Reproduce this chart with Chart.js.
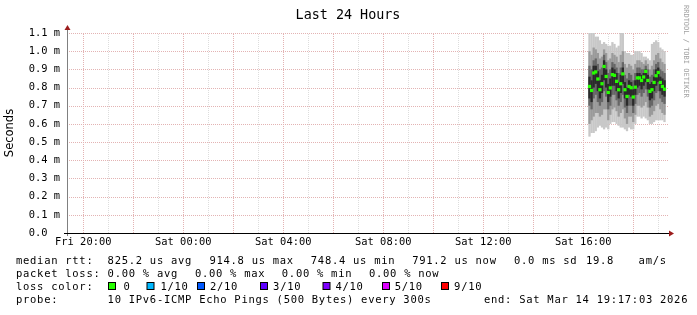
<!DOCTYPE html>
<html>
<head>
<meta charset="utf-8">
<title>Last 24 Hours</title>
<script src="https://cdn.jsdelivr.net/npm/chart.js@4"></script>
<style>
  body { margin: 0; background: #fff; }
  canvas { display: block; }
</style>
</head>
<body>
<canvas id="myChart" width="697" height="315"></canvas>
<script>
// 5 minute steps, Sat afternoon
const stepTimes = ['16:15','16:20','16:25','16:30','16:35','16:40','16:45','16:50','16:55',
    '17:00','17:05','17:10','17:15','17:20','17:25','17:30','17:35','17:40','17:45','17:50','17:55',
    '18:00','18:05','18:10','18:15','18:20','18:25','18:30','18:35','18:40','18:45','18:50','18:55',
    '19:00','19:05','19:10','19:15'];

// rtt in ms
const medianRtt = [.806,.784,.880,.886,.847,.788,.821,.916,.861,.773,.798,.871,.867,.834,.788,.821,.875,.788,.751,.806,.799,.748,.802,.853,.853,.839,.858,.889,.839,.779,.788,.828,.865,.883,.828,.806,.791];
const outerHigh = [1.10,1.10,1.10,1.08,1.08,1.06,1.04,1.05,1.04,1.03,1.03,1.05,1.04,1.02,1.03,1.10,1.10,1.00,.99,.99,.98,.98,1.00,1.00,1.00,.99,.97,.97,.96,.95,1.04,1.05,1.06,1.05,1.02,1.01,1.00];
const outerLow = [.53,.55,.55,.56,.58,.59,.58,.57,.58,.57,.60,.61,.61,.60,.59,.58,.58,.57,.56,.58,.57,.57,.60,.64,.64,.63,.64,.63,.62,.60,.60,.61,.62,.62,.62,.62,.61];
const midHigh = [1.00,.98,1.02,1.01,.99,.96,.97,1.01,.99,.95,.96,.99,.98,.97,.94,.98,1.00,.93,.91,.93,.92,.90,.93,.95,.95,.94,.93,.95,.93,.90,.92,.95,.98,.99,.96,.94,.93];
const midLow = [.60,.62,.64,.66,.66,.64,.65,.68,.68,.62,.65,.68,.69,.67,.64,.66,.68,.63,.60,.64,.64,.61,.65,.70,.70,.69,.70,.72,.69,.64,.65,.67,.70,.71,.68,.66,.65];
const innerHigh = [.92,.90,.95,.96,.93,.90,.91,.98,.94,.88,.90,.94,.93,.91,.88,.91,.94,.87,.85,.88,.87,.84,.88,.91,.91,.90,.90,.92,.90,.86,.87,.90,.93,.94,.90,.89,.88];
const innerLow = [.70,.68,.74,.76,.72,.70,.72,.78,.75,.68,.70,.76,.76,.73,.70,.72,.76,.69,.66,.70,.70,.66,.71,.76,.77,.75,.77,.79,.75,.69,.70,.73,.77,.78,.74,.72,.71];
const coreHigh = [.86,.84,.92,.92,.89,.84,.87,.95,.90,.82,.85,.91,.90,.88,.83,.87,.91,.83,.80,.84,.83,.79,.84,.88,.88,.87,.88,.90,.87,.82,.83,.86,.90,.91,.86,.85,.84];
const coreLow = [.74,.72,.80,.82,.78,.74,.77,.84,.80,.72,.75,.81,.81,.78,.74,.77,.82,.74,.70,.76,.75,.70,.76,.80,.81,.79,.81,.83,.79,.73,.74,.78,.81,.83,.78,.76,.75];

// axis ticks (x = hours since Fri 00:00)
const xTickHours = [20,21,22,23,24,25,26,27,28,29,30,31,32,33,34,35,36,37,38,39,40,41,42,43];
const yTicks = [0,0.1,0.2,0.3,0.4,0.5,0.6,0.7,0.8,0.9,1.0,1.1];

const lossColors = ['#26ff00','#00b8ff','#0059ff','#5e00ff','#7e00ff','#dd00ff','#ff0000'];
const lossLabels = ['0','1/10','2/10','3/10','4/10','5/10','9/10'];

const mono = '"DejaVu Sans Mono", "Liberation Mono", monospace';
const majorGrid = '#e3b3b3';
const minorGrid = '#dddddd';

function stepHour(t) {
    const p = t.split(':');
    return 24 + Number(p[0]) + Number(p[1]) / 60;
}

function band(lo, hi) {
    return stepTimes.map((t, i) => ({ x: stepHour(t), y: [lo[i], hi[i]] }));
}

function hourLabel(v) {
    if (v % 4 !== 0) return '';
    const day = v < 24 ? 'Fri' : 'Sat';
    const h = v % 24;
    return day + ' ' + (h < 10 ? '0' + h : h) + ':00';
}

// dotted rrdtool style grid, placed with the chart's scales
const dottedGrid = {
    id: 'dottedGrid',
    beforeDatasetsDraw(chart) {
        const c = chart.ctx;
        const a = chart.chartArea;
        const xs = chart.scales.x;
        const ys = chart.scales.y;
        c.save();
        c.lineWidth = 1;
        c.setLineDash([1, 1]);
        xs.ticks.forEach(t => {
            const px = Math.round(xs.getPixelForValue(t.value)) + 0.5;
            c.strokeStyle = t.value % 2 === 0 ? majorGrid : minorGrid;
            c.beginPath();
            c.moveTo(px, a.bottom);
            c.lineTo(px, a.top);
            c.stroke();
        });
        ys.ticks.forEach(t => {
            if (t.value === 0) return;
            const py = Math.round(ys.getPixelForValue(t.value)) + 0.5;
            c.strokeStyle = majorGrid;
            c.beginPath();
            c.moveTo(a.left, py);
            c.lineTo(a.right + 1, py);
            c.stroke();
        });
        c.restore();
    }
};

const smokeText = {
    id: 'smokeText',
    afterDraw(chart) {
        const c = chart.ctx;
        const a = chart.chartArea;
        c.save();

        // axes + arrows
        c.lineWidth = 1;
        c.strokeStyle = '#808080';
        c.beginPath();
        c.moveTo(a.left + 0.5, a.bottom + 3);
        c.lineTo(a.left + 0.5, a.top - 5);
        c.stroke();
        c.strokeStyle = '#000';
        c.beginPath();
        c.moveTo(a.left - 3, a.bottom + 0.5);
        c.lineTo(a.right + 5, a.bottom + 0.5);
        c.stroke();
        c.fillStyle = '#9c1c1c';
        c.beginPath();
        c.moveTo(a.left - 2.5, a.top - 3);
        c.lineTo(a.left + 3.5, a.top - 3);
        c.lineTo(a.left + 0.5, a.top - 8);
        c.closePath();
        c.fill();
        c.beginPath();
        c.moveTo(a.right + 2, a.bottom - 2.5);
        c.lineTo(a.right + 2, a.bottom + 3.5);
        c.lineTo(a.right + 7, a.bottom + 0.5);
        c.closePath();
        c.fill();

        // title
        c.fillStyle = '#000';
        c.font = '13.4px ' + mono;
        c.textAlign = 'center';
        c.textBaseline = 'alphabetic';
        c.fillText('Last 24 Hours', 348, 18.5);

        // y title
        c.save();
        c.translate(10.5, 133);
        c.rotate(-Math.PI / 2);
        c.font = '11.5px "DejaVu Sans", sans-serif';
        c.textBaseline = 'middle';
        c.fillText('Seconds', 0, 0);
        c.restore();

        // watermark
        c.save();
        c.translate(686, 5);
        c.rotate(Math.PI / 2);
        c.font = '7px ' + mono;
        c.fillStyle = '#a0a0a0';
        c.textAlign = 'left';
        c.textBaseline = 'middle';
        c.fillText('RRDTOOL / TOBI OETIKER', 0, 0);
        c.restore();

        // legend
        c.font = '10.5px ' + mono;
        c.letterSpacing = '0.72px';
        c.textAlign = 'left';
        c.fillStyle = '#000';
        const row = (y, items) => items.forEach(([x, s]) => c.fillText(s, x, y));
        row(263.5, [[16, 'median rtt:'], [107.6, '825.2 us avg'], [209.4, '914.8 us max'],
            [310.8, '748.4 us min'], [412.2, '791.2 us now'], [514, '0.0 ms sd'],
            [586, '19.8'], [638.6, 'am/s']]);
        row(276.5, [[16, 'packet loss:'], [107.6, '0.00 % avg'], [194.9, '0.00 % max'],
            [281.8, '0.00 % min'], [369, '0.00 % now']]);
        row(289.5, [[16, 'loss color:']]);
        const boxX = [108, 146.5, 197, 260, 322.5, 382, 441];
        const labX = [123.6, 160.4, 210, 273.1, 335.4, 394.7, 454.1];
        lossColors.forEach((col, i) => {
            c.fillStyle = col;
            c.fillRect(boxX[i] + 0.5, 282.5, 7, 7);
            c.strokeStyle = '#000';
            c.strokeRect(boxX[i] + 0.5, 282.5, 7, 7);
            c.fillStyle = '#000';
            c.fillText(lossLabels[i], labX[i], 289.5);
        });
        row(302.5, [[16, 'probe:'], [107.6, '10 IPv6-ICMP Echo Pings (500 Bytes) every 300s'],
            [484, 'end: Sat Mar 14 19:17:03 2026']]);

        c.restore();
    }
};

const barStyle = { type: 'bar', grouped: false, borderWidth: 0, barPercentage: 1.1, categoryPercentage: 1 };

const ctx = document.getElementById('myChart');
const chart = new Chart(ctx, {
    type: 'bar',
    data: {
        datasets: [
            { ...barStyle, data: band(outerLow, outerHigh), backgroundColor: '#c8c8c8', order: 5 },
            { ...barStyle, data: band(midLow, midHigh), backgroundColor: '#9a9a9a', order: 4 },
            { ...barStyle, data: band(innerLow, innerHigh), backgroundColor: '#666666', order: 3 },
            { ...barStyle, data: band(coreLow, coreHigh), backgroundColor: '#2a2a2a', order: 2 },
            {
                type: 'line',
                data: stepTimes.map((t, i) => ({ x: stepHour(t), y: medianRtt[i] })),
                showLine: false,
                pointStyle: 'rect',
                pointRadius: 2.3,
                pointBorderWidth: 0,
                pointBackgroundColor: '#26ff00',
                order: 1
            }
        ]
    },
    options: {
        responsive: false,
        animation: false,
        events: [],
        layout: { padding: { left: 0, right: 30, top: 33, bottom: 62 } },
        plugins: { legend: { display: false }, tooltip: { enabled: false } },
        scales: {
            x: {
                type: 'linear',
                offset: false,
                min: 19.35,
                max: 43.35,
                afterBuildTicks: s => { s.ticks = xTickHours.map(v => ({ value: v })); },
                afterFit: s => { s.height = 20; s.paddingLeft = 0; s.paddingRight = 0; },
                grid: { display: false, offset: false, drawTicks: false },
                border: { display: false },
                ticks: {
                    autoSkip: false,
                    maxRotation: 0,
                    padding: 3,
                    color: '#000',
                    font: { family: 'DejaVu Sans Mono', size: 10.4 },
                    callback: v => hourLabel(v)
                }
            },
            y: {
                min: 0,
                max: 1.1,
                afterBuildTicks: s => { s.ticks = yTicks.map(v => ({ value: v })); },
                afterFit: s => { s.width = 67; s.paddingTop = 0; s.paddingBottom = 0; },
                grid: { display: false, drawTicks: false },
                border: { display: false },
                ticks: {
                    padding: 7,
                    color: '#000',
                    font: { family: 'DejaVu Sans Mono', size: 10.4 },
                    callback: v => v === 0 ? '0.0  ' : v.toFixed(1) + ' m'
                }
            }
        }
    },
    plugins: [dottedGrid, smokeText]
});
</script>
</body>
</html>
